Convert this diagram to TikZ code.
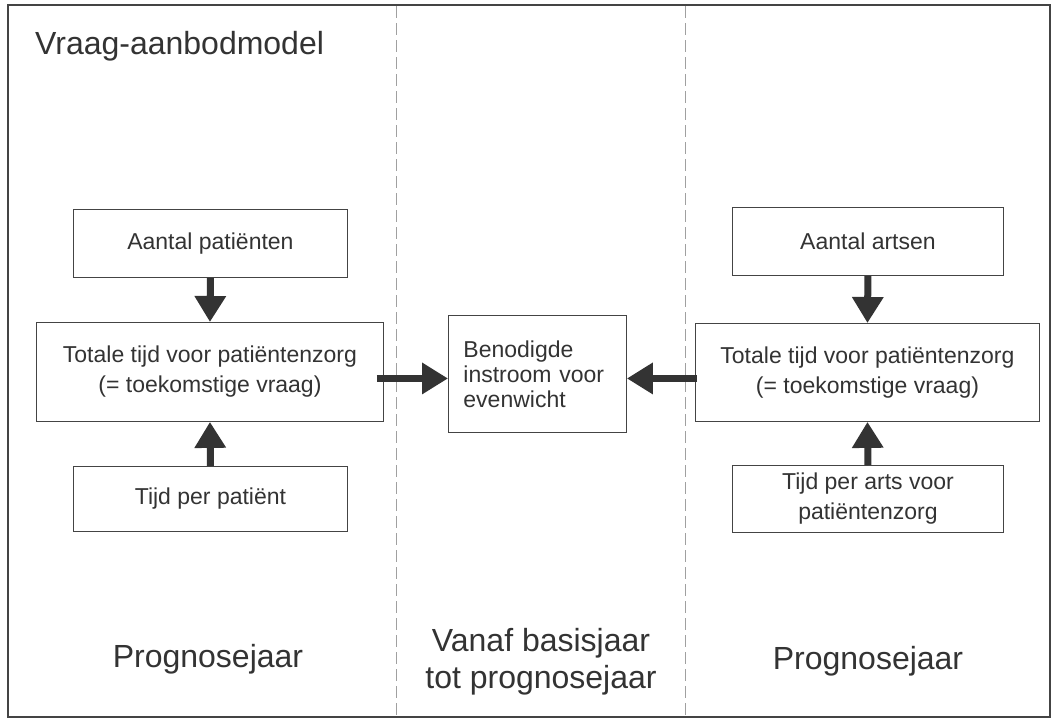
\documentclass[tikz,border=0pt]{standalone}
\usepackage{fontspec}
\setmainfont{Liberation Sans}
\usetikzlibrary{arrows.meta}
\definecolor{ink}{HTML}{333333}
\definecolor{framec}{HTML}{444444}
\definecolor{dashc}{HTML}{A0A0A0}
\begin{document}
\begin{tikzpicture}[x=1pt,y=-1pt,
  box/.style={draw=framec, line width=0.9pt, text=ink, anchor=north west,
    font=\fontsize{23}{30}\selectfont, align=center, inner sep=0pt},
  arr/.style={draw=ink, line width=7pt, -{Triangle[width=30pt,length=26pt]}},
  big/.style={text=ink, font=\fontsize{32}{37}\selectfont, align=center, inner sep=0pt},
  sep/.style={draw=dashc, line width=0.8pt, dash pattern=on 12pt off 5pt}]
\useasboundingbox (0,0) rectangle (1055,720);
\fill[white] (0,0) rectangle (1055,720);
% frame
\draw[framec, line width=2pt] (8,5) rectangle (1050,717);
\coordinate (s1t) at (396,6);
\coordinate (s1b) at (396,716);
\coordinate (s2t) at (685,6);
\coordinate (s2b) at (685,716);
\draw[sep] (s1t) -- (s1b);
\draw[sep] (s2t) -- (s2b);
% title
\node[big, anchor=base west] (title) at (35,54) {Vraag-aanbodmodel};
% left column
\node[box, minimum width=274pt, minimum height=68pt] (L1) at (73,209) {\raisebox{-4pt}{Aantal patiënten}};
\node[box, minimum width=347pt, minimum height=99pt] (L2) at (36,322) {Totale tijd voor patiëntenzorg\\(= toekomstige vraag)};
\node[box, minimum width=274pt, minimum height=65pt] (L3) at (73,466) {Tijd per patiënt};
% middle
\node[box, minimum width=178pt, minimum height=117pt, text width=148pt, align=left,
  inner xsep=15pt, font=\fontsize{23}{25}\selectfont] (M) at (448,315) {Benodigde\\instroom voor\\evenwicht};
% right column
\node[box, minimum width=271pt, minimum height=68pt] (R1) at (732,207) {\raisebox{-2pt}{Aantal artsen}};
\node[box, minimum width=344pt, minimum height=98pt] (R2) at (695,323) {Totale tijd voor patiëntenzorg\\(= toekomstige vraag)};
\node[box, minimum width=271pt, minimum height=67pt] (R3) at (732,465) {Tijd per arts voor\\patiëntenzorg};
% arrows
\draw[arr] (L1.south) -- (L2.north);
\draw[arr] (L3.north) -- (L2.south);
\draw[arr] (R1.south) -- (R2.north);
\draw[arr] (R3.north) -- (R2.south);
\draw[arr] ([xshift=-7pt,yshift=-6.5pt]L2.east) -- ([yshift=-4.5pt]M.west);
\draw[arr] ([xshift=2pt,yshift=-6pt]R2.west) -- ([yshift=-4.5pt]M.east);
% bottom labels
\node[big, anchor=base] (p1) at (208,667) {Prognosejaar};
\node[big, anchor=base] (p2) at (541,688) {Vanaf basisjaar\\tot prognosejaar};
\node[big, anchor=base] (p3) at (868,669) {Prognosejaar};
\end{tikzpicture}
\end{document}
